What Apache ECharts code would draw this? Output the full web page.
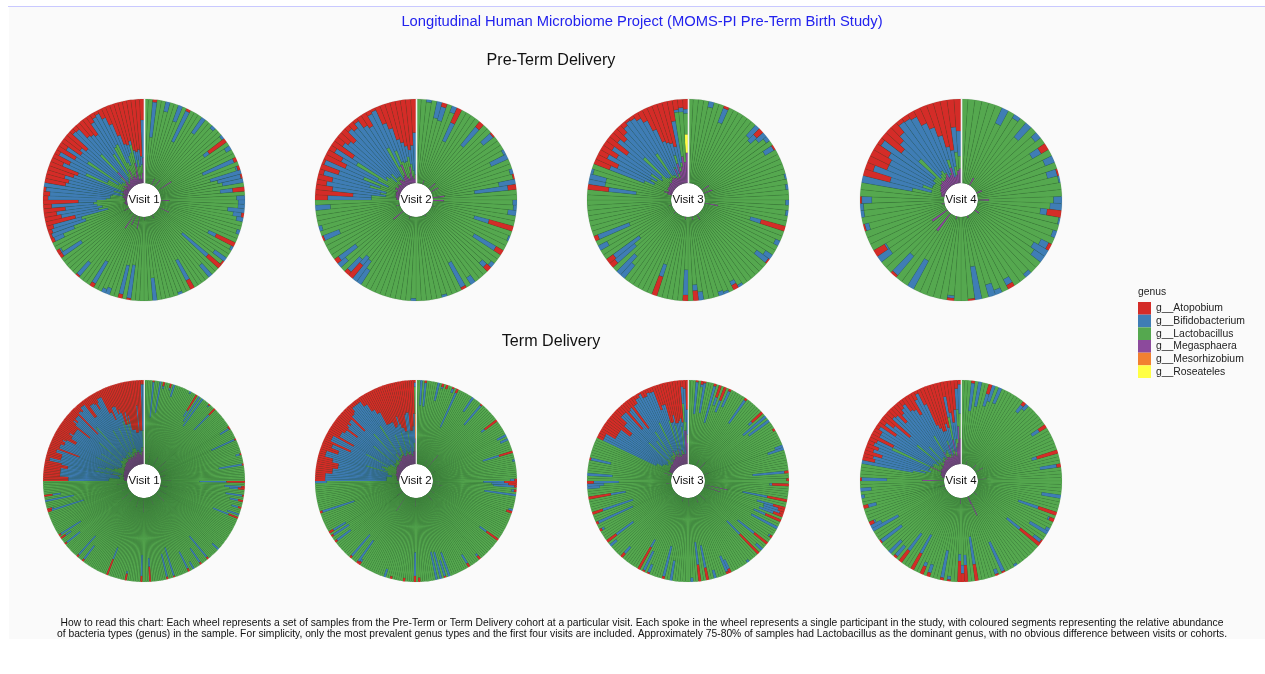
<!DOCTYPE html>
<html><head><meta charset="utf-8">
<script src="https://cdn.jsdelivr.net/npm/echarts@6/dist/echarts.min.js"></script>
<style>html,body{margin:0;background:#fff}#c{width:1265px;height:674px;filter:blur(.45px)}</style>
</head><body><div id="c"></div>
<script>
const genera=['g__Atopobium','g__Bifidobacterium','g__Lactobacillus','g__Megasphaera','g__Mesorhizobium','g__Roseateles'];
const genusColors=['#D42C28','#3F7DB5','#55A84F','#8C4A9C','#F28030','#FFFF44'];
const visitNames=['Visit 1','Visit 2','Visit 3','Visit 4'];
const spokeCounts=[144,120,120,90,360,288,240,180];
// Each row: [first spoke, spoke count, Megasphaera, Bifidobacterium, Atopobium]; the rest of a spoke is Lactobacillus.
const preV1=[[2,1,0,.42,.03],[5,1,0,.12,0],[8,1,0,.2,0],[10,1,0,.4,.03],[14,1,0,.22,0],[17,1,0,.04,0],[20,1,0,.03,0],[21,1,0,.07,.25],[23,1,0,.07,0],[26,1,0,.4,.04],[28,1,0,.02,.03],[29,1,0,.38,0],[30,1,0,.28,.02],[31,1,0,.25,0],[33,1,0,.15,.14],[35,1,0,.1,0],[36,1,0,.08,0],[37,1,0,.08,0],[38,1,0,.2,0],[39,1,0,.1,.03],[40,1,0,.08,0],[43,1,0,.04,0],[46,1,0,.1,.25],[47,1,0,.03,0],[50,1,0,.17,0],[51,1,0,0,.02],[52,1,0,.4,.2],[55,1,0,.18,0],[60,1,0,.27,.12],[63,1,0,.03,0],[69,1,0,.27,0],[75,1,0,.4,.02],[77,1,0,.35,.05],[80,1,0,.08,0],[81,1,0,.05,0],[84,1,0,.3,.05],[88,1,0,.2,.02],[94,1,0,.27,.04],[95,1,0,.02,.04],[98,1,0,.12,.04],[99,1,0,.28,.03],[100,1,0,.42,.05],[101,1,.02,.35,.08],[102,1,.02,.4,.36],[103,1,.03,.45,.2],[104,1,.03,.55,.15],[105,1,.04,.38,.26],[106,1,.02,.5,.1],[107,1,.02,.22,.42],[108,1,.03,.69,.06],[109,1,.03,.72,.08],[110,1,.05,.77,.03],[111,1,.05,.82,0],[112,1,.06,.69,.25],[113,1,.03,.63,.28],[114,1,.05,.61,.22],[115,1,.06,.62,.32],[116,1,.08,.55,.36],[117,1,.06,.3,.15],[118,1,.06,.5,.22],[119,1,.08,.66,.06],[120,1,.04,.6,.25],[121,1,.1,.3,.1],[122,1,.08,.6,.28],[123,1,.05,.63,.24],[124,1,.08,.6,.3],[125,1,.1,.77,.05],[126,1,.25,.4,.06],[127,1,.05,.72,.2],[128,1,.07,.69,.22],[129,1,.08,.64,.25],[130,1,.1,.45,.1],[131,1,.12,.78,.06],[132,1,.08,.45,.04],[133,1,.2,.35,.12],[134,1,.1,.5,.22],[135,1,.12,.38,.38],[136,1,.08,.15,.5],[137,1,.15,.1,.52],[138,1,.25,.05,.48],[139,1,.05,.2,.6],[140,1,.1,.1,.62],[141,1,.05,.2,.6],[142,1,.12,.1,.68],[143,1,.3,.45,.25]];
const preV1Mega=[[22,.19],[15,.1],[10,.08],[36,.1],[46,.13],[60,.04],[85,.2],[77,.15],[82,.13],[71,.04],[96,.06],[90,.03]];
const preV2=[[2,1,0,.03,0],[4,1,0,.2,0],[5,1,0,.17,.05],[7,1,0,.08,0],[8,1,0,.24,.19],[13,1,0,.28,.08],[16,1,0,.15,.02],[20,1,0,.03,0],[21,1,0,.22,0],[24,1,0,.04,0],[25,1,0,0,.02],[26,1,0,.2,0],[27,1,0,.4,.1],[30,1,0,.05,0],[31,1,0,.04,0],[32,1,0,.1,0],[35,1,0,.18,.3],[37,1,0,.02,0],[40,1,0,.3,.1],[43,1,0,.05,0],[44,1,0,.07,.07],[48,1,0,.1,0],[50,1,0,.33,.03],[54,1,0,.03,0],[60,1,0,.03,0],[71,1,0,.2,0],[72,1,0,.3,0],[73,1,0,.12,.2],[74,1,0,.2,.05],[76,1,0,.12,0],[77,1,0,.25,.06],[82,1,0,.2,.02],[84,1,0,.04,0],[88,1,0,.18,0],[90,1,.03,.52,.15],[91,1,.03,.22,.45],[92,1,.04,.64,.2],[93,1,.05,.65,.12],[94,1,.04,.66,.18],[95,1,.05,.57,.06],[96,1,.05,.52,.23],[97,1,.06,.5,.03],[98,1,.04,.56,.28],[99,1,.08,.49,.2],[100,1,.08,.3,.08],[101,1,.05,.49,.3],[102,1,.06,.64,.12],[103,1,.08,.64,.16],[104,1,.06,.69,.2],[105,1,.05,.72,.06],[106,1,.1,.76,.1],[107,1,.1,.82,.04],[108,1,.08,.72,.14],[109,1,.06,.74,.18],[110,1,.1,.45,.05],[111,1,.12,.73,.03],[112,1,.25,.35,.22],[113,1,.08,.42,.3],[114,1,.06,.29,.45],[115,1,.12,.23,.5],[116,1,.2,.13,.55],[117,1,.08,.17,.6],[118,1,.05,.3,.55],[119,1,.1,.5,.4]];
const preV2Mega=[[20,.1],[27,.14],[16,.1],[7,.05],[76,.15],[49,.02],[30,.13],[84,.04],[66,.03],[36,.03]];
const preV3=[[4,1,0,.07,0],[7,1,0,.18,.03],[14,1,0,.17,0],[15,1,0,.1,.1],[16,1,0,.12,0],[17,1,0,.05,0],[19,1,0,.12,.02],[25,1,0,.02,0],[27,1,0,.03,0],[30,1,0,.04,0],[32,1,0,.03,0],[35,1,0,.13,.3],[38,1,0,.06,0],[41,1,0,.1,0],[42,1,0,.17,.02],[49,1,0,.03,0],[50,1,0,.05,.06],[52,1,0,.03,0],[53,1,0,.05,0],[57,1,0,.1,0],[58,1,0,.07,.12],[60,1,0,.3,.07],[66,1,0,.15,.24],[73,1,0,.2,0],[74,1,0,.3,0],[76,1,0,.3,.08],[77,1,0,.38,.1],[80,1,0,.12,0],[82,1,0,.4,.05],[92,1,0,.33,.25],[93,1,0,.2,0],[94,1,0,.2,0],[95,1,.05,.03,0],[96,1,.1,0,0],[97,1,.06,.44,.2],[98,1,.05,.48,.28],[99,1,.07,.58,.12],[100,1,.08,.55,.22],[101,1,.07,.55,.12],[102,1,.08,.52,.3],[103,1,.08,.67,.12],[104,1,.1,.3,.18],[105,1,.08,.72,.12],[106,1,.1,.8,.06],[107,1,.1,.83,.03],[108,1,.12,.5,.04],[109,1,.1,.78,.08],[110,1,.1,.73,.14],[111,1,.08,.62,.28],[112,1,.2,.33,.45],[113,1,.08,.39,.48],[114,1,.25,.15,.5],[115,1,.15,.25,.55],[116,1,.2,.5,.25],[117,1,.32,.03,.12],[118,1,.25,.05,.1],[119,1,.36,.05,.12]];
const preV3Mega=[[18,.1],[22,.11],[33,.16],[49,.07],[55,.04],[75,.03],[84,.03],[62,.03]];
const preV3Roseateles=[[119,.22]];
const preV4=[[6,1,0,.2,0],[8,1,0,.05,0],[10,1,0,.22,0],[12,1,0,.08,0],[14,1,0,.12,.1],[16,1,0,.12,0],[18,1,0,.12,.02],[19,1,0,.02,0],[22,1,0,.1,0],[23,1,0,.14,0],[24,1,0,.08,.17],[25,1,0,.02,0],[27,1,0,.05,0],[29,1,0,.1,.04],[30,1,0,.2,0],[31,1,0,.15,0],[34,1,0,.05,0],[37,1,0,.08,.05],[39,1,0,.06,0],[40,1,0,.15,0],[42,1,0,.4,0],[43,1,0,0,.02],[46,1,0,.03,.03],[52,1,0,.38,0],[55,1,0,.3,.03],[58,1,0,.17,0],[59,1,0,.02,.15],[63,1,0,.05,.02],[65,1,0,.04,0],[66,1,0,.04,0],[67,1,0,.12,.02],[70,1,.04,.61,0],[71,1,.04,.51,.33],[72,1,.05,.62,.1],[73,1,.07,.58,.25],[74,1,.07,.58,.25],[75,1,.08,.64,.2],[76,1,.1,.75,.05],[77,1,.1,.5,.3],[78,1,.12,.3,.22],[79,1,.1,.7,.15],[80,1,.1,.77,.05],[81,1,.12,.73,.06],[82,1,.15,.75,.08],[83,1,.1,.7,.2],[84,1,.12,.58,.28],[85,1,.2,.3,.4],[86,1,.08,.37,.55],[87,1,.1,.2,.6],[88,1,.15,.3,.33],[89,1,.17,.3,.38]];
const preV4Mega=[[7,.1],[16,.07],[22,.13],[31,.06],[58,.22],[54,.26],[39,.03],[64,.03],[48,.03]];
const termV1=[[5,1,0,.42,.02],[9,1,0,.38,0],[11,1,0,.03,.05],[15,1,0,.03,.05],[17,1,0,.15,0],[27,1,0,.03,0],[31,1,0,.08,.22],[33,1,0,.35,0],[35,1,0,.4,0],[40,1,0,.02,.02],[44,1,0,.25,.1],[57,1,0,0,.02],[58,1,0,.12,.02],[65,1,0,.3,.02],[74,1,0,.05,.02],[80,1,0,.28,.02],[90,1,0,.32,.22],[93,1,0,.2,.04],[94,1,0,.1,.08],[98,1,0,.2,.02],[101,1,0,.1,.06],[105,1,0,.08,.04],[109,1,0,.15,0],[111,1,0,.2,.12],[132,1,0,.1,0],[140,1,0,.32,.03],[145,1,0,.2,.03],[150,1,0,.1,0],[153,1,0,.22,.04],[162,1,0,.35,.02],[166,1,0,.28,.03],[176,1,0,.1,.18],[181,1,0,.25,.07],[190,1,0,.03,.08],[201,1,0,.15,.2],[217,1,0,.2,.03],[221,1,0,.3,.03],[231,1,0,.2,.03],[235,1,0,.08,.07],[237,1,0,.28,.03],[252,1,0,.4,.05],[253,1,0,.02,.06],[258,1,0,.35,0],[261,1,0,.1,.1],[270,3,.03,.48,.3],[273,2,.04,.59,.2],[275,4,.04,.71,.2],[279,3,.04,.61,.28],[282,2,.05,.77,.05],[284,4,.05,.74,.18],[288,2,.05,.62,.1],[290,1,.06,.43,.38],[291,3,.06,.7,.12],[294,4,.06,.7,.16],[298,2,.06,.6,.28],[300,4,.07,.69,.2],[304,4,.08,.68,.2],[308,1,.08,.47,.38],[309,3,.08,.69,.15],[312,3,.1,.75,.1],[315,1,.1,.45,.42],[316,3,.1,.75,.08],[319,3,.1,.8,.05],[322,2,.12,.61,.25],[324,3,.12,.73,.1],[327,3,.1,.75,.12],[330,3,.12,.73,.08],[333,2,.1,.55,.3],[335,1,.12,.48,.4],[336,3,.12,.58,.25],[339,3,.15,.45,.35],[342,4,.15,.3,.5],[346,1,.15,.45,.4],[347,4,.15,.25,.58],[351,3,.12,.24,.62],[354,1,.1,.55,.3],[355,3,.15,.2,.6],[358,2,.2,.55,.05],[340,1,.1,.15,.3],[344,1,.12,.1,.35],[334,1,.1,.2,.3],[328,1,.15,.3,.2],[318,1,.2,.25,.1],[310,1,.1,.4,.1],[302,1,.12,.45,.15],[296,1,.15,.45,.12],[286,1,.1,.45,.18],[281,1,.2,.4,.2]];
const termV1Mega=[[12,.1],[30,.12],[48,.15],[62,.1],[75,.06],[88,.12],[104,.08],[120,.1],[135,.14],[158,.1],[180,.17],[196,.12],[214,.1],[230,.14],[246,.08],[262,.12]];
const termV2=[[2,1,0,.3,0],[4,1,0,.28,.03],[10,1,0,.22,0],[12,1,0,.02,.04],[14,1,0,0,.05],[17,1,0,.05,.02],[19,1,0,.45,.05],[27,1,0,.2,0],[32,1,0,.3,.02],[42,1,0,.05,.18],[50,1,0,.12,0],[52,1,0,.1,0],[58,1,0,.2,.17],[62,1,0,.03,0],[71,1,0,.05,.03],[72,1,0,.25,.15],[73,1,0,.2,.1],[74,1,0,.25,.03],[76,1,0,.03,.03],[78,1,0,.38,0],[85,1,0,.05,0],[86,1,0,0,.07],[100,1,0,.1,.17],[112,1,0,.03,.05],[118,1,0,.12,.05],[128,1,0,.3,0],[130,1,0,.2,.02],[132,1,0,.33,0],[134,1,0,.34,0],[142,1,0,0,.05],[144,1,0,.28,.07],[149,1,0,0,.04],[155,1,0,0,.03],[158,1,0,.1,0],[171,1,0,.03,.04],[172,1,0,.3,.03],[176,1,0,.33,.03],[186,1,0,.2,.03],[189,1,0,.22,.03],[191,1,0,.17,.06],[201,1,0,.4,.03],[215,1,0,.14,0],[216,4,.02,.73,.12],[220,3,.03,.65,.2],[223,3,.03,.65,.26],[226,2,.04,.68,.18],[228,3,.05,.77,.08],[231,2,.05,.59,.22],[233,2,.05,.64,.12],[235,1,.05,.44,.35],[236,3,.06,.75,.08],[239,1,.06,.5,.35],[240,3,.07,.69,.15],[243,2,.08,.72,.18],[245,1,.08,.54,.33],[246,3,.08,.7,.18],[249,2,.08,.74,.14],[251,1,.08,.52,.35],[252,3,.08,.74,.12],[255,3,.1,.83,.05],[258,2,.1,.75,.05],[260,2,.12,.73,.12],[262,2,.12,.63,.22],[264,2,.14,.56,.28],[266,3,.14,.31,.45],[269,2,.12,.43,.45],[271,2,.12,.33,.52],[273,3,.14,.33,.5],[276,2,.12,.3,.55],[278,3,.12,.24,.6],[281,2,.1,.5,.38],[283,2,.15,.25,.6],[285,1,.2,.2,.55],[286,1,.15,.35,.4],[287,1,.3,.05,.03],[247,1,.1,.4,.15],[254,1,.12,.35,.1],[261,1,.2,.3,.12],[268,1,.2,.15,.45],[274,1,.15,.2,.4],[238,1,.08,.45,.08],[229,1,.1,.5,.08],[280,1,.2,.2,.4]];
const termV2Mega=[[32,.2],[22,.08],[50,.05],[72,.08],[80,.12],[98,.06],[112,.1],[144,.1],[170,.22],[185,.08],[200,.05],[210,.04]];
const termV2Mesorhizobium=[[287,.3]];
const termV3=[[3,1,0,.38,.02],[5,1,0,.03,.04],[6,1,0,.36,.02],[10,1,0,.45,.03],[12,1,0,.1,.15],[14,1,0,.15,.17],[16,1,0,.2,.03],[23,1,0,.33,.03],[31,1,0,.05,.17],[33,1,0,.35,0],[35,1,0,.3,0],[39,1,0,0,.03],[46,1,0,.1,0],[47,1,0,.2,0],[56,1,0,.38,.05],[59,1,0,0,.03],[61,1,0,.03,.2],[67,1,0,.3,.24],[70,1,0,.2,.15],[71,1,0,.18,.08],[72,1,0,.2,.05],[73,1,0,.18,.12],[75,1,0,.15,.2],[78,1,0,.35,0],[82,1,0,.02,.03],[85,1,0,.25,.2],[88,1,0,.1,0],[90,1,0,.22,.32],[95,1,0,.03,0],[103,1,0,.12,.05],[104,1,0,.2,.03],[109,1,0,.1,0],[112,1,0,.27,.15],[115,1,0,.27,.2],[118,1,0,.05,0],[126,1,0,.24,0],[129,1,0,.37,.03],[135,1,0,.1,.02],[137,1,0,.25,.02],[139,1,0,.1,.3],[147,1,0,.1,.06],[153,1,0,.1,0],[155,1,0,.25,.14],[160,1,0,.03,.03],[163,1,0,.45,.03],[167,1,0,.38,.13],[173,1,0,.18,.27],[177,1,0,.15,0],[178,1,0,.2,0],[179,1,0,.3,.08],[182,1,0,.3,0],[188,1,0,.24,.02],[197,3,.05,.7,.08],[200,3,.05,.65,.2],[203,2,.06,.67,.2],[205,2,.06,.57,.33],[207,3,.07,.68,.2],[210,2,.07,.75,.1],[212,1,.07,.53,.38],[213,2,.08,.74,.12],[215,1,.08,.49,.42],[216,2,.1,.75,.1],[218,2,.1,.8,.05],[220,1,.12,.78,.02],[221,2,.12,.74,.08],[223,1,.12,.81,.05],[224,2,.14,.76,.06],[226,1,.1,.57,.3],[227,2,.14,.56,.25],[229,3,.1,.4,.48],[232,2,.12,.33,.5],[234,2,.12,.38,.48],[236,1,.12,.38,.5],[237,1,.4,.2,.08],[238,1,.4,.4,.1],[239,1,.25,.3,.35],[209,1,.1,.45,.1],[217,1,.15,.4,.1],[222,1,.2,.35,.08],[228,1,.2,.2,.25],[231,1,.18,.12,.4],[235,1,.2,.1,.45],[214,1,.12,.5,.1]];
const termV3Mega=[[18,.08],[28,.1],[45,.06],[68,.28],[72,.2],[92,.1],[103,.08],[118,.1],[130,.05],[150,.04],[175,.06],[190,.05],[192,.1]];
const termV4=[[3,1,0,.33,.03],[5,1,0,.3,0],[8,1,0,.15,.12],[9,1,0,.2,0],[11,1,0,.2,0],[19,1,0,.1,.05],[20,1,0,.08,0],[28,1,0,.1,.1],[36,1,0,.06,.26],[40,1,0,.2,.05],[49,1,0,.23,0],[54,1,0,.25,.23],[56,1,0,.02,.06],[59,1,0,.05,0],[60,1,0,.25,0],[63,1,0,.1,.02],[64,1,0,.2,.3],[73,1,0,.03,0],[77,1,0,.38,.02],[79,1,0,.06,.02],[85,1,0,.33,.2],[88,1,0,.12,.2],[89,1,0,.1,.1],[90,1,0,.08,.25],[93,1,0,.04,.02],[95,1,0,.33,.03],[99,1,0,.1,.05],[101,1,0,.05,.1],[104,1,0,.25,.22],[108,1,0,.25,.17],[110,1,0,.15,.03],[112,1,0,.2,0],[116,1,0,.3,.02],[120,1,0,.35,0],[121,1,0,.14,0],[122,1,0,.02,.06],[127,1,0,.1,.06],[130,1,0,.04,0],[132,1,0,.13,0],[135,1,0,.3,.02],[140,1,.03,.62,0],[141,1,.03,.62,.15],[142,1,.04,.58,.12],[143,1,.05,.61,.22],[144,1,.05,.69,.1],[145,1,.05,.65,.15],[146,1,.05,.72,.08],[147,1,.2,.2,.1],[148,1,.06,.52,.3],[149,1,.07,.73,.1],[150,1,.07,.71,.1],[151,1,.07,.78,.05],[152,1,.06,.62,.26],[153,1,.08,.76,.08],[154,1,.1,.35,.18],[155,1,.07,.48,.4],[156,1,.08,.74,.1],[157,1,.08,.77,.12],[158,1,.12,.4,.25],[159,1,.1,.73,.15],[160,1,.1,.76,.1],[161,1,.12,.78,.07],[162,1,.12,.68,.18],[163,1,.1,.68,.2],[164,1,.2,.3,.28],[165,1,.12,.73,.1],[166,1,.12,.78,.04],[167,1,.12,.6,.2],[168,1,.1,.38,.48],[169,1,.12,.33,.53],[170,1,.25,.12,.58],[171,1,.1,.3,.58],[172,1,.14,.3,.5],[173,1,.12,.28,.55],[174,1,.3,.25,.18],[175,1,.1,.47,.38],[176,1,.2,.2,.5],[177,1,.25,.35,.35],[178,1,.45,.25,.1],[179,1,.3,.35,.05]];
const termV4Mega=[[77,.25],[42,.1],[29,.1],[21,.06],[8,.05],[135,.26],[127,.05],[121,.03],[90,.07],[78,.1],[65,.05]];

const wheelRows=[preV1,preV2,preV3,preV4,termV1,termV2,termV3,termV4];
const wheelMega=[preV1Mega,preV2Mega,preV3Mega,preV4Mega,termV1Mega,termV2Mega,termV3Mega,termV4Mega];
const wheelRoseateles={2:preV3Roseateles};
const wheelMesorhizobium={5:termV2Mesorhizobium};
const wheelX=[144,416,688,961],wheelY=[200,481];
const HOLE=17,OUTER=101;

function spokes(n,rows,mega,rose,meso){
  const s={g:[],b:[],l:[],m:[],o:[],y:[]};
  const m=new Array(n).fill(0),b=new Array(n).fill(0),r=new Array(n).fill(0),y=new Array(n).fill(0),o=new Array(n).fill(0);
  rows.forEach(([i,c,mv,bv,rv])=>{for(let k=i;k<i+c;k++){m[k]=mv;b[k]=bv;r[k]=rv}});
  mega.forEach(([i,v])=>{m[i]=v});
  (rose||[]).forEach(([i,v])=>{y[i]=v});
  (meso||[]).forEach(([i,v])=>{o[i]=v});
  const nz=v=>v>0?v:null;
  for(let k=0;k<n;k++){
    let sum=m[k]+b[k]+r[k]+y[k]+o[k],f=sum>1?1/sum:1;
    s.m.push(nz(m[k]*f));s.y.push(nz(y[k]*f));s.o.push(nz(o[k]*f));
    s.l.push(nz(Math.max(0,1-sum)));s.b.push(nz(b[k]*f));s.g.push(nz(r[k]*f));
  }
  return s;
}
const polar=[],angleAxis=[],radiusAxis=[],series=[],titles=[],graphic=[];
graphic.push({type:'rect',z:0,shape:{x:9,y:7,width:1256,height:632},style:{fill:'#fafafa'}});
graphic.push({type:'rect',z:0,shape:{x:8,y:6,width:1257,height:1},style:{fill:'#c9c9ff'}});
wheelRows.forEach((rows,w)=>{
  const cx=wheelX[w%4],cy=wheelY[w>3?1:0],n=spokeCounts[w];
  polar.push({center:[cx,cy],radius:[HOLE,OUTER]});
  angleAxis.push({polarIndex:w,type:'category',data:Array.from({length:n},(_,i)=>i),startAngle:90,boundaryGap:true,axisLine:{show:false},axisTick:{show:false},axisLabel:{show:false},splitLine:{show:false}});
  radiusAxis.push({polarIndex:w,type:'value',min:0,max:1,axisLine:{show:false},axisTick:{show:false},axisLabel:{show:false},splitLine:{show:false}});
  const s=spokes(n,rows,wheelMega[w],wheelRoseateles[w],wheelMesorhizobium[w]);
  [[3,s.m],[5,s.y],[4,s.o],[2,s.l],[1,s.b],[0,s.g]].forEach(([g,d])=>{
    series.push({type:'bar',name:genera[g],coordinateSystem:'polar',polarIndex:w,stack:'w'+w,data:d,barCategoryGap:'0%',barGap:'0%',silent:true,animation:false,
      itemStyle:{color:genusColors[g],borderColor:'#14301a',borderWidth:w>3?.05:.09}});
  });
  graphic.push({type:'circle',z:1,shape:{cx,cy,r:OUTER-.5},style:{fill:'#1f4d27'}});
  graphic.push({type:'circle',z:1.5,shape:{cx,cy,r:HOLE},style:{fill:'#fff'}});
  graphic.push({type:'rect',z:10,shape:{x:cx-.3,y:cy-OUTER,width:w>3?1.2:1.6,height:OUTER-HOLE},style:{fill:'#f2f2f2'}});
  titles.push({text:visitNames[w%4],left:cx,top:cy,textAlign:'center',textVerticalAlign:'middle',padding:0,textStyle:{fontFamily:'Liberation Sans',fontSize:11.5,fontWeight:'normal',color:'#111'}});
});
const T=(text,left,top,size,color)=>({text,left,top,textAlign:'center',textVerticalAlign:'middle',padding:0,textStyle:{fontFamily:'Liberation Sans',fontSize:size,fontWeight:'normal',color}});
titles.push(T('Longitudinal Human Microbiome Project (MOMS-PI Pre-Term Birth Study)',642,22,14.75,'#2222ee'));
titles.push(T('Pre-Term Delivery',551,61,16.1,'#111'));
titles.push(T('Term Delivery',551,342,16.1,'#111'));
titles.push(T('How to read this chart: Each wheel represents a set of samples from the Pre-Term or Term Delivery cohort at a particular visit. Each spoke in the wheel represents a single participant in the study, with coloured segments representing the relative abundance',642,623,10.3,'#111'));
titles.push(T('of bacteria types (genus) in the sample. For simplicity, only the most prevalent genus types and the first four visits are included. Approximately 75-80% of samples had Lactobacillus as the dominant genus, with no obvious difference between visits or cohorts.',642,634,10.3,'#111'));
titles.push({text:'genus',left:1138,top:292,textVerticalAlign:'middle',padding:0,textStyle:{fontFamily:'Liberation Sans',fontSize:10.3,fontWeight:'normal',color:'#222'}});
const chart=echarts.init(document.getElementById('c'),null,{renderer:'canvas'});
chart.setOption({animation:false,backgroundColor:'transparent',title:titles,polar,angleAxis,radiusAxis,series,
  legend:{orient:'vertical',left:1138,top:302,padding:0,itemWidth:13,itemHeight:12.67,itemGap:0,icon:'rect',selectedMode:false,data:genera,itemStyle:{borderWidth:0},textStyle:{fontFamily:'Liberation Sans',fontSize:10.4,color:'#222'}},
  graphic:{elements:graphic}});
</script></body></html>
